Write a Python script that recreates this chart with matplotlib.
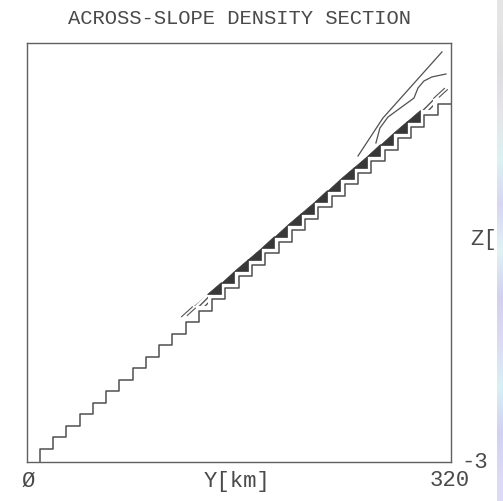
import numpy as np
import matplotlib
matplotlib.use("Agg")
import matplotlib.pyplot as plt

# across-slope distance [km] and depth of each bottom step [km]
y_edges = [10, 20, 30, 40, 50, 60, 70, 80, 90, 100, 110, 120, 130, 140, 150, 160,
           170, 180, 190, 200, 210, 220, 230, 240, 250, 260, 270, 280, 290, 300, 310, 320]
z_steps = [-2.906, -2.823, -2.741, -2.659, -2.576, -2.494, -2.412, -2.329, -2.247,
           -2.165, -2.082, -2.000, -1.918, -1.836, -1.753, -1.671, -1.589, -1.506,
           -1.424, -1.342, -1.259, -1.177, -1.095, -1.012, -0.930, -0.848, -0.765,
           -0.683, -0.601, -0.518, -0.436]

# dense bottom layer: solid cells, partly filled cells, thin edges
solid_cells = list(range(13, 29))
hatched_cells = [12, 29]
thin_cells = [11, 30]

# upper density contours
c1_y = [249.9, 268.7, 313.2]
c1_z = [-0.809, -0.537, -0.064]
c2_y = [263.4, 266.4, 272.5, 292.1, 295.1, 299.6, 305.6, 316.2]
c2_z = [-0.716, -0.609, -0.530, -0.394, -0.322, -0.272, -0.243, -0.222]

ink = "#505050"
font = ["Liberation Mono", "DejaVu Sans Mono"]

fig = plt.figure(figsize=(5.03, 5.01), dpi=100)
ax = fig.add_axes([26.5 / 503, 39 / 501, 424.5 / 503, 419 / 501])
ax.set_xlim(0, 320)
ax.set_ylim(-3, 0)
ax.set_xticks([])
ax.set_yticks([])
for s in ax.spines.values():
    s.set_color("#606060")
    s.set_linewidth(1.0)

# staircase bottom
sx = [y_edges[0]]
sz = [-3]
for k, z in enumerate(z_steps):
    sx += [y_edges[k], y_edges[k + 1]]
    sz += [z, z]
ax.plot(sx, sz, color=ink, lw=1.1)

# triangles in the bottom cells
w, h = 10.2, 0.088
dx, dz = 3.4, 0.036


def tri(k):
    xr = y_edges[k + 1] - dx
    zb = z_steps[k] + dz
    return np.array([[xr - w, zb], [xr, zb], [xr, zb + h]])


for k in solid_cells:
    ax.add_patch(plt.Polygon(tri(k), closed=True, facecolor="#383838",
                             edgecolor="#383838", lw=0.5))
for k in hatched_cells:
    ax.add_patch(plt.Polygon(tri(k), closed=True, facecolor="none",
                             edgecolor="#555555", lw=0, hatch="//////"))
for k in thin_cells:
    p = tri(k)
    a, c = p[0], p[2]
    for f0, f1, off in [(0.05, 0.85, 0.0), (0.35, 0.95, 0.6)]:
        q0 = a + (c - a) * f0 + np.array([off * 2.0, -off * 0.03])
        q1 = a + (c - a) * f1 + np.array([off * 2.0, -off * 0.03])
        ax.plot([q0[0], q1[0]], [q0[1], q1[1]], color="#555555", lw=0.8)

ax.plot(c1_y, c1_z, color=ink, lw=0.9)
ax.plot(c2_y, c2_z, color=ink, lw=0.9)

txt = dict(color="#4a4a4a", family=font, fontsize=16)
fig.text(240 / 503, 1 - 19 / 501, "ACROSS-SLOPE DENSITY SECTION",
         ha="center", va="center", color="#4a4a4a", family=font, fontsize=14.8)
fig.text(28 / 503, 1 - 481 / 501, "Ø", ha="center", va="center", **txt)
fig.text(237 / 503, 1 - 481 / 501, "Y[km]", ha="center", va="center", **txt)
fig.text(450 / 503, 1 - 481 / 501, "320", ha="center", va="center", **txt)
fig.text(475 / 503, 1 - 463 / 501, "-3", ha="center", va="center", **txt)
fig.text(470 / 503, 1 - 240 / 501, "Z[", ha="left", va="center", **txt)

# page edge strip on the right
edge = np.array([[0.90, 0.90, 0.90], [0.87, 0.87, 0.88], [0.90, 0.90, 0.92],
                 [0.86, 0.95, 0.95], [0.84, 0.84, 0.95], [0.88, 0.95, 0.96],
                 [0.82, 0.82, 0.94], [0.86, 0.86, 0.96], [0.85, 0.94, 0.96],
                 [0.82, 0.82, 0.95], [0.86, 0.86, 0.97]])
sax = fig.add_axes([497 / 503, 0, 6 / 503, 1])
sax.imshow(edge[:, None, :], aspect="auto", interpolation="bilinear")
sax.set_axis_off()

fig.savefig("out.png", dpi=100)
